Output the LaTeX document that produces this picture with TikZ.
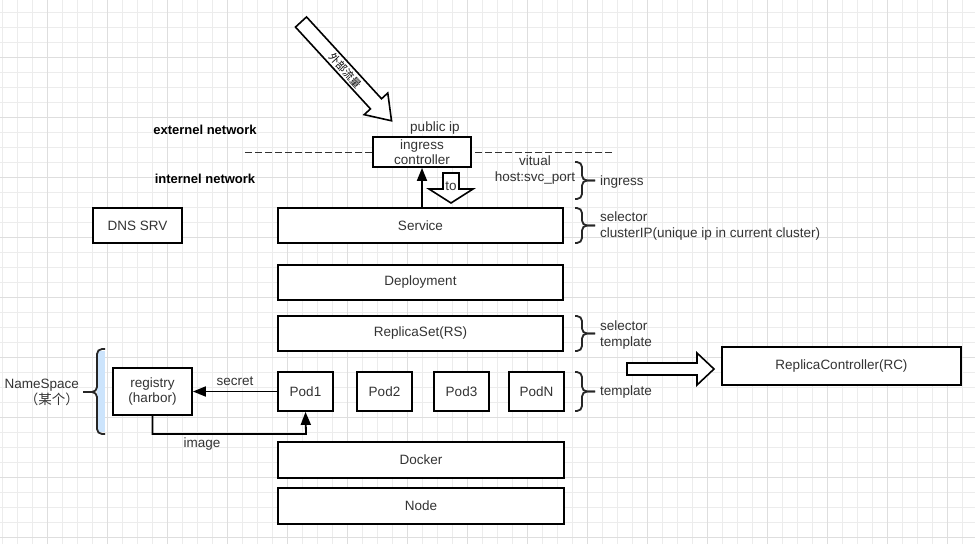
\documentclass[tikz,border=0pt]{standalone}
\usepackage{fontspec}
\setmainfont{Liberation Sans}
\newfontfamily\cjk{Noto Sans CJK SC}
\usetikzlibrary{arrows.meta}
\definecolor{gridminor}{RGB}{236,236,236}
\definecolor{gridmajor}{RGB}{222,222,222}
\definecolor{txt}{RGB}{51,51,51}
\definecolor{nsblue}{RGB}{204,228,252}

\begin{document}
\begin{tikzpicture}[x=1pt,y=-1pt,
    box/.style={draw=black,line width=1.8pt,fill=white,text=txt,inner sep=0pt,align=center,font=\fontsize{13.5}{15}\selectfont},
    lbl/.style={text=txt,inner sep=0pt,align=left,font=\fontsize{13.5}{16}\selectfont},
    arr/.style={line width=1.8pt,-{Triangle[length=13pt,width=10pt]}},
    brc/.style={line width=1.8pt,draw=black!85,rounded corners=5pt},
    hollow/.style={draw=black,line width=1.6pt,fill=white,line join=miter}]
    \useasboundingbox (0,0) rectangle (975,544);
    \fill[white] (0,0) rectangle (975,544);
    % grid
    \foreach \i in {2.3,17.3,...,975} \draw[gridminor,line width=0.8pt] (\i,0) -- (\i,544);
    \foreach \i in {12.3,27.3,...,544} \draw[gridminor,line width=0.8pt] (0,\i) -- (975,\i);
    \foreach \i in {47.3,107.3,...,975} \draw[gridmajor,line width=0.8pt] (\i,0) -- (\i,544);
    \foreach \i in {57.3,117.3,...,544} \draw[gridmajor,line width=0.8pt] (0,\i) -- (975,\i);

    % network border
    \node[lbl,font=\fontsize{13}{16}\selectfont\bfseries,text=black] (ext) at (205,130) {externel network};
    \node[lbl,font=\fontsize{13}{16}\selectfont\bfseries,text=black] (int) at (205,179) {internel network};
    \draw[black!80,line width=1pt,dash pattern=on 7pt off 3pt] (245,152) -- (612,152);

    % outside traffic
    \begin{scope}[shift={(301,22)},rotate=-47.5]
     \draw[hollow] (0,-7.5) -- (111,-7.5) -- (111,-16) -- (134,0) -- (111,16) -- (111,7.5) -- (0,7.5) -- cycle;
     \node[inner sep=0pt,rotate=-47.5,font=\cjk\fontsize{10.5}{10.5}\selectfont] (traffic) at (66,0) {外部流量};
    \end{scope}

    \node[lbl] (pubip) at (435,128) {public ip};
    \node[box,minimum width=98,minimum height=30] (ic) at (422,152) {ingress\\controller};
    \node[lbl,align=center] (vhost) at (535,170) {vitual\\host:svc\_port};

    % stack
    \node[box,minimum width=89,minimum height=35] (dns) at (137.5,225.5) {DNS SRV};
    \node[box,minimum width=285,minimum height=35] (svc) at (420.5,225.5) {Service};
    \node[box,minimum width=285,minimum height=35] (dep) at (420.5,282.5) {Deployment};
    \node[box,minimum width=285,minimum height=35] (rs) at (420.5,333.5) {ReplicaSet(RS)};
    \node[box,minimum width=55,minimum height=39] (pod1) at (305.5,391.5) {Pod1};
    \node[box,minimum width=55,minimum height=39] (pod2) at (384.5,391.5) {Pod2};
    \node[box,minimum width=55,minimum height=39] (pod3) at (461.5,391.5) {Pod3};
    \node[box,minimum width=55,minimum height=39] (podn) at (536.5,391.5) {PodN};
    \node[box,minimum width=286,minimum height=36] (docker) at (421,460) {Docker};
    \node[box,minimum width=286,minimum height=36] (node) at (421,506) {Node};
    \node[box,minimum width=79,minimum height=47] (reg) at (152.5,391.5) {registry\\(harbor)};
    \node[box,minimum width=239,minimum height=38] (rc) at (841.5,366) {ReplicaController(RC)};

    % connectors
    \draw[arr] (svc.north -| ic.south) -- (ic.south);
    \draw[hollow] (443,173) -- (459,173) -- (459,189) -- (473,189) -- (451,203) -- (429,189) -- (443,189) -- cycle;
    \node[lbl] (to) at (451,186) {to};
    \draw[arr] (pod1.west) -- (reg.east) node[lbl,midway,above=5pt] (secret) {secret};
    \coordinate (imgbend) at (306,434);
    \draw[arr] (reg.south) |- (imgbend) -- (pod1.south);
    \node[lbl] (image) at (202,444) {image};
    \draw[hollow] (627,363) -- (697,363) -- (697,353) -- (714,369) -- (697,385) -- (697,375) -- (627,375) -- cycle;

    % braces
    \foreach \t/\b in {162/199,208/243,316/351,372/411} {
     \draw[brc] (575,\t) -- (582,\t) -- (582,{(\t+\b)/2}) -- (595,{(\t+\b)/2});
     \draw[brc] (575,\b) -- (582,\b) -- (582,{(\t+\b)/2}) -- (595,{(\t+\b)/2});
    }
    \node[lbl,anchor=west] (ingress) at (600,182) {ingress};
    \node[lbl,anchor=west] (svcnote) at (600,226) {selector\\clusterIP(unique ip in current cluster)};
    \node[lbl,anchor=west] (rsnote) at (600,335) {selector\\template};
    \node[lbl,anchor=west] (podnote) at (600,392) {template};

    % namespace
    \fill[nsblue] (97,351) rectangle (105,432);
    \draw[brc] (105,349) -- (97,349) -- (97,392) -- (83,392);
    \draw[brc] (105,434) -- (97,434) -- (97,392) -- (83,392);
    \node[lbl,align=right,anchor=east] (ns) at (79,392) {NameSpace\\{\cjk （某个）}};
\end{tikzpicture}
\end{document}
